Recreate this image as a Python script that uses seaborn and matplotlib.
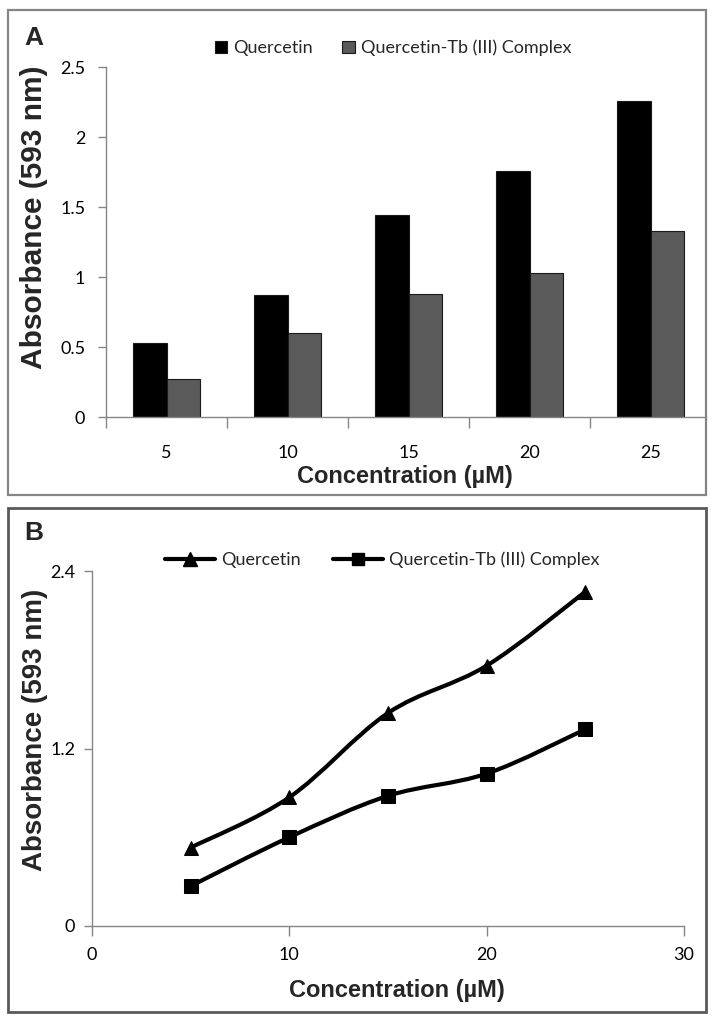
import numpy as np
import pandas as pd
import matplotlib
matplotlib.use("Agg")
import matplotlib.pyplot as plt
import seaborn as sns
from matplotlib.path import Path
from matplotlib.patches import PathPatch, Rectangle
from matplotlib.lines import Line2D

# ---------------- data ----------------
concentration = [5, 10, 15, 20, 25]
quercetin = [0.53, 0.87, 1.44, 1.76, 2.26]
complex_tb = [0.27, 0.60, 0.88, 1.03, 1.33]
series_names = ["Quercetin", "Quercetin-Tb (III) Complex"]
bar_yticks = [0, 0.5, 1, 1.5, 2, 2.5]
bar_yticklabels = ["0", "0.5", "1", "1.5", "2", "2.5"]
line_yticks = [0, 1.2, 2.4]
line_yticklabels = ["0", "1.2", "2.4"]
line_xticks = [0, 10, 20, 30]
x_label = "Concentration (µM)"
y_label = "Absorbance (593 nm)"

sns.set_theme(style="white")
plt.rcParams["font.family"] = ["Lato", "DejaVu Sans"]

W, H = 714, 1024
fig = plt.figure(figsize=(7.14, 10.24), dpi=100)


def fx(px):
    return px / W


def fy(py):
    return 1 - py / H


AX_COL = "#868686"
TICK_FS = 13
BOLD_FAMILY = ["Liberation Sans", "DejaVu Sans"]

# ---------------- panel borders ----------------
fig.add_artist(Rectangle((fx(8), fy(495)), fx(706) - fx(8), fy(10) - fy(495),
                         transform=fig.transFigure, fill=False, ec="#858585", lw=1.6))
fig.add_artist(Rectangle((fx(8), fy(1012)), fx(706) - fx(8), fy(508) - fy(1012),
                         transform=fig.transFigure, fill=False, ec="#5a5a5a", lw=2.0))

# ---------------- panel A : bars ----------------
ax1 = fig.add_axes([fx(106), fy(417), fx(706) - fx(106), (417 - 67) / H])
df_bar = pd.DataFrame({
    "conc": [str(c) for c in concentration] * 2,
    "absorbance": quercetin + complex_tb,
    "series": [series_names[0]] * len(concentration) + [series_names[1]] * len(concentration),
})
sns.barplot(data=df_bar, x="conc", y="absorbance", hue="series",
            palette=["#000000", "#5a5a5a"], width=0.555, gap=0,
            edgecolor="#1a1a1a", linewidth=0.8, errorbar=None, ax=ax1)
ax1.set_xlim(-0.5, 4.5 - 5 / 121)
ax1.set_ylim(0, 2.5)
ax1.set_yticks(bar_yticks)
ax1.set_yticklabels(bar_yticklabels)
ax1.set_xticks(range(len(concentration)))
ax1.set_xticklabels([str(c) for c in concentration])
ax1.set_xticks([i - 0.5 for i in range(len(concentration))], minor=True)
for s in ["top", "right"]:
    ax1.spines[s].set_visible(False)
for s in ["left", "bottom"]:
    ax1.spines[s].set_color(AX_COL)
    ax1.spines[s].set_linewidth(1.0)
ax1.tick_params(axis="y", left=True, direction="out", length=6, width=1,
                color=AX_COL, labelsize=TICK_FS, pad=9, labelcolor="black")
ax1.tick_params(axis="x", which="major", bottom=True, length=0, pad=20,
                labelsize=TICK_FS, labelcolor="black")
ax1.tick_params(axis="x", which="minor", bottom=True, direction="out",
                length=8, width=1, color=AX_COL)
ax1.set_xlabel(x_label, fontsize=17, fontweight="bold", family=BOLD_FAMILY)
ax1.xaxis.set_label_coords((405 - 106) / 600, (417 - 476) / 350)
ax1.xaxis.label.set_va("center")
ax1.set_ylabel(y_label, fontsize=21.5, fontweight="bold", family=BOLD_FAMILY)
ax1.yaxis.set_label_coords((34 - 106) / 600, (417 - 217) / 350)
ax1.yaxis.label.set_va("center")

leg = ax1.get_legend()
handles = leg.legend_handles
labels = [t.get_text() for t in leg.get_texts()]
leg.remove()
ax1.legend(handles, labels, loc="center", bbox_to_anchor=(fx(393), fy(48)),
           bbox_transform=fig.transFigure, ncol=2, frameon=False,
           handlelength=0.7, handleheight=0.7, handletextpad=0.35,
           columnspacing=1.6, fontsize=TICK_FS, borderpad=0)

fig.text(fx(34), fy(38), "A", fontsize=19, fontweight="bold",
         family=BOLD_FAMILY, ha="center", va="center")

# ---------------- panel B : smoothed lines ----------------
ax2 = fig.add_axes([fx(92), fy(926), fx(684) - fx(92), (926 - 571) / H])
df_line = pd.DataFrame({
    "conc": concentration * 2,
    "absorbance": quercetin + complex_tb,
    "series": [series_names[0]] * len(concentration) + [series_names[1]] * len(concentration),
})


def smooth_path(xs, ys):
    p = np.column_stack([xs, ys]).astype(float)
    n = len(p)
    verts = [p[0]]
    codes = [Path.MOVETO]
    for i in range(n - 1):
        p_prev = p[i - 1] if i > 0 else p[i]
        p_next2 = p[i + 2] if i + 2 < n else p[i + 1]
        c1 = p[i] + (p[i + 1] - p_prev) / 6
        c2 = p[i + 1] - (p_next2 - p[i]) / 6
        verts += [c1, c2, p[i + 1]]
        codes += [Path.CURVE4] * 3
    return Path(verts, codes)


for name in series_names:
    sub = df_line[df_line["series"] == name]
    ax2.add_patch(PathPatch(smooth_path(sub["conc"], sub["absorbance"]),
                            fill=False, ec="black", lw=3.0,
                            capstyle="round", joinstyle="round", zorder=2))

sns.lineplot(data=df_line, x="conc", y="absorbance", hue="series", style="series",
             markers=["^", "s"], dashes=False, palette=["black", "black"],
             linewidth=0, markersize=9.5, markeredgecolor="black",
             legend=False, ax=ax2, zorder=3)
ax2.set_xlim(0, 30)
ax2.set_ylim(0, 2.4)
ax2.set_xticks(line_xticks)
ax2.set_xticklabels([str(v) for v in line_xticks])
ax2.set_yticks(line_yticks)
ax2.set_yticklabels(line_yticklabels)
for s in ["top", "right"]:
    ax2.spines[s].set_visible(False)
for s in ["left", "bottom"]:
    ax2.spines[s].set_color(AX_COL)
    ax2.spines[s].set_linewidth(1.0)
ax2.tick_params(axis="y", left=True, direction="out", length=6, width=1,
                color=AX_COL, labelsize=TICK_FS, pad=6, labelcolor="black")
ax2.tick_params(axis="x", bottom=True, direction="out", length=7, width=1,
                color=AX_COL, labelsize=TICK_FS, pad=8, labelcolor="black")
ax2.set_xlabel(x_label, fontsize=17, fontweight="bold", family=BOLD_FAMILY)
ax2.xaxis.set_label_coords((397 - 92) / 592, (926 - 991) / 355)
ax2.xaxis.label.set_va("center")
ax2.set_ylabel(y_label, fontsize=20, fontweight="bold", family=BOLD_FAMILY)
ax2.yaxis.set_label_coords((35 - 92) / 592, (926 - 730) / 355)
ax2.yaxis.label.set_va("center")

line_handles = [
    Line2D([0], [0], color="black", lw=3.0, marker="^", markersize=9.5),
    Line2D([0], [0], color="black", lw=3.0, marker="s", markersize=8.5),
]
ax2.legend(line_handles, series_names, loc="center", bbox_to_anchor=(fx(382), fy(560)),
           bbox_transform=fig.transFigure, ncol=2, frameon=False,
           handlelength=2.8, handletextpad=0.3, columnspacing=1.8,
           fontsize=TICK_FS, borderpad=0)

fig.text(fx(34), fy(533), "B", fontsize=19, fontweight="bold",
         family=BOLD_FAMILY, ha="center", va="center")

fig.savefig("out.png", dpi=100)
